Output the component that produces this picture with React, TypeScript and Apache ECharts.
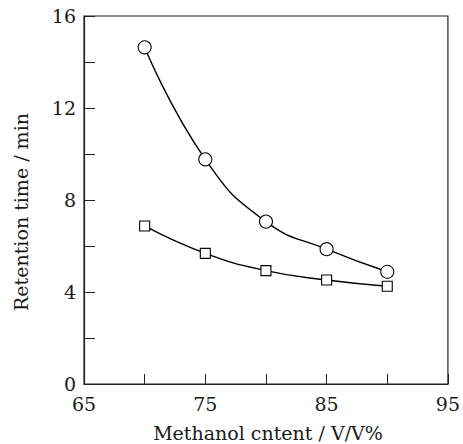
import React, { useEffect, useRef } from "react";
import * as echarts from "echarts";

const methanol = [70, 75, 80, 85, 90];
const circleSeries = [14.64, 9.77, 7.06, 5.86, 4.88];
const squareSeries = [6.87, 5.68, 4.93, 4.52, 4.25];
const xLabels = [65, 75, 85, 95];
const yLabels = [0, 4, 8, 12, 16];

const FONT = "DejaVu Serif";

export default function App() {
  const ref = useRef<HTMLDivElement>(null);
  useEffect(() => {
    if (!ref.current) return;
    const chart = echarts.init(ref.current, undefined, { renderer: "svg" });
    const axisColor = "#222";
    chart.setOption({
      animation: false,
      backgroundColor: "#fff",
      grid: {
        left: 84,
        right: 12,
        top: 16,
        bottom: 60,
        containLabel: false,
        show: true,
        borderColor: axisColor,
        borderWidth: 1.2,
        backgroundColor: "transparent",
      },
      xAxis: {
        type: "value",
        min: 65,
        max: 95,
        interval: 5,
        axisLine: { show: true, lineStyle: { color: axisColor, width: 1.2 } },
        axisTick: { show: true, inside: true, length: 10, lineStyle: { color: axisColor, width: 1 } },
        splitLine: { show: false },
        axisLabel: {
          margin: 10,
          color: "#1a1a1a",
          fontFamily: FONT,
          fontSize: 19,
          formatter: (v: number) => (xLabels.includes(v) ? String(v) : ""),
        },
      },
      yAxis: {
        type: "value",
        min: 0,
        max: 16,
        interval: 2,
        axisLine: { show: true, lineStyle: { color: axisColor, width: 1.2 } },
        axisTick: { show: true, inside: true, length: 11, lineStyle: { color: axisColor, width: 1 } },
        splitLine: { show: false },
        axisLabel: {
          margin: 8,
          color: "#1a1a1a",
          fontFamily: FONT,
          fontSize: 19,
          padding: [5, 0, 0, 0],
          formatter: (v: number) => (yLabels.includes(v) ? String(v) : ""),
        },
      },
      graphic: [
        {
          type: "text",
          x: 268,
          y: 433,
          style: {
            text: "Methanol cntent / V/V%",
            font: `19px "${FONT}"`,
            fill: "#1a1a1a",
            align: "center",
            verticalAlign: "middle",
          },
        },
        {
          type: "text",
          x: 21,
          y: 212,
          rotation: Math.PI / 2,
          style: {
            text: "Retention time / min",
            font: `19px "${FONT}"`,
            fill: "#1a1a1a",
            align: "center",
            verticalAlign: "middle",
          },
        },
      ],
      series: [
        {
          type: "line",
          data: methanol.map((x, i) => [x, circleSeries[i]]),
          smooth: 0.5,
          symbol: "circle",
          symbolSize: 13,
          lineStyle: { color: "#000", width: 1.4 },
          itemStyle: { color: "#fff", borderColor: "#000", borderWidth: 1.1 },
          z: 3,
        },
        {
          type: "line",
          data: methanol.map((x, i) => [x, squareSeries[i]]),
          smooth: 0.5,
          symbol: "rect",
          symbolSize: 10,
          lineStyle: { color: "#000", width: 1.4 },
          itemStyle: { color: "#fff", borderColor: "#000", borderWidth: 1.1 },
          z: 3,
        },
      ],
    });
    return () => chart.dispose();
  }, []);
  return (
    <div
      ref={ref}
      style={{ position: "fixed", left: 0, top: 0, width: 463, height: 444, background: "#fff" }}
    />
  );
}
